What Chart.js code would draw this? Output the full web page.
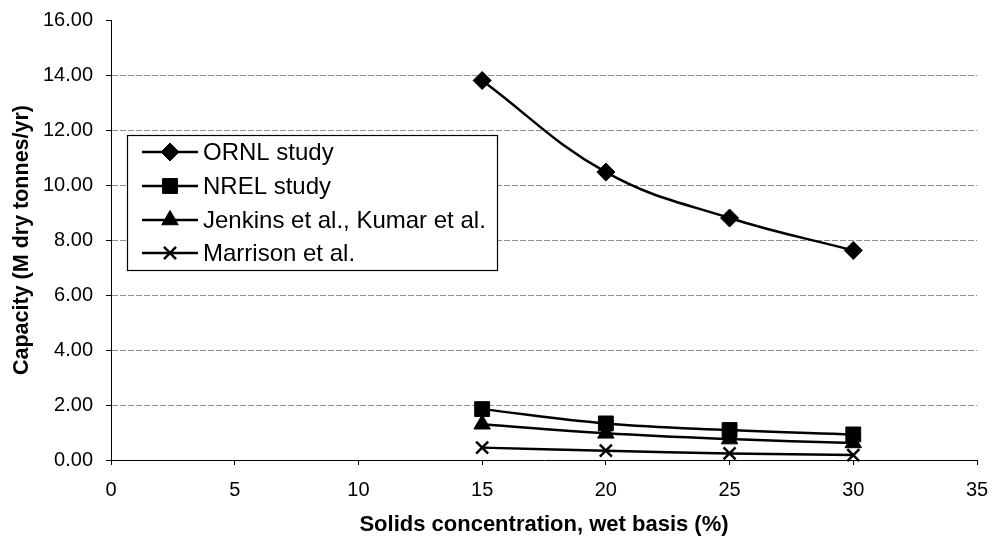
<!DOCTYPE html>
<html>
<head>
<meta charset="utf-8">
<script src="https://cdn.jsdelivr.net/npm/chart.js@4/dist/chart.umd.min.js"></script>
<style>
  html, body { margin: 0; padding: 0; background: #fff; }
  #wrap { width: 993px; height: 542px; position: relative; }
</style>
</head>
<body>
<div id="wrap"><canvas id="c" width="993" height="542"></canvas></div>
<script>
// ---- data ----
const solids = [15, 20, 25, 30];
const ornlStudy = [13.8, 10.47, 8.8, 7.62];
const nrelStudy = [1.85, 1.33, 1.09, 0.93];
const jenkinsKumar = [1.3, 0.97, 0.76, 0.62];
const marrison = [0.45, 0.34, 0.24, 0.18];
const seriesNames = ['ORNL study', 'NREL study', 'Jenkins et al., Kumar et al.', 'Marrison et al.'];
const xTicks = [0, 5, 10, 15, 20, 25, 30, 35];
const yTicks = [0, 2, 4, 6, 8, 10, 12, 14, 16];
const xTitle = 'Solids concentration, wet basis (%)';
const yTitle = 'Capacity (M dry tonnes/yr)';

const FONT = '"Liberation Sans", Arial, Helvetica, sans-serif';
const styles = [
  { pointStyle: 'rectRot', radius: 9 },
  { pointStyle: 'rect', radius: 10.5 },
  { pointStyle: 'triangle', radius: 9.5 },
  { pointStyle: 'crossRot', radius: 8.5 }
];
const allSeries = [ornlStudy, nrelStudy, jenkinsKumar, marrison];

const datasets = allSeries.map((vals, i) => ({
  label: seriesNames[i],
  data: solids.map((x, j) => ({ x: x, y: vals[j] })),
  borderColor: '#000',
  backgroundColor: '#000',
  borderWidth: 2.5,
  tension: 0.4,
  pointStyle: styles[i].pointStyle,
  pointRadius: styles[i].radius,
  pointHoverRadius: styles[i].radius,
  pointBackgroundColor: '#000',
  pointBorderColor: '#000',
  pointBorderWidth: styles[i].pointStyle === 'crossRot' ? 2.5 : 1,
  clip: false
}));

function drawMarker(ctx, style, r, x, y) {
  ctx.save();
  ctx.fillStyle = '#000';
  ctx.strokeStyle = '#000';
  ctx.lineWidth = 1;
  ctx.beginPath();
  if (style === 'rectRot') {
    ctx.moveTo(x, y - r); ctx.lineTo(x + r, y); ctx.lineTo(x, y + r); ctx.lineTo(x - r, y);
    ctx.closePath(); ctx.fill(); ctx.stroke();
  } else if (style === 'rect') {
    const s = r * Math.SQRT1_2;
    ctx.rect(x - s, y - s, 2 * s, 2 * s); ctx.fill(); ctx.stroke();
  } else if (style === 'triangle') {
    const a = 2 * Math.PI / 3;
    ctx.moveTo(x, y - r);
    ctx.lineTo(x + Math.sin(a) * r, y - Math.cos(a) * r);
    ctx.lineTo(x + Math.sin(2 * a) * r, y - Math.cos(2 * a) * r);
    ctx.closePath(); ctx.fill(); ctx.stroke();
  } else if (style === 'crossRot') {
    ctx.lineWidth = 2.5;
    const d = r * Math.SQRT1_2;
    ctx.moveTo(x - d, y - d); ctx.lineTo(x + d, y + d);
    ctx.moveTo(x + d, y - d); ctx.lineTo(x - d, y + d);
    ctx.stroke();
  }
  ctx.restore();
}

const boxLegend = {
  id: 'boxLegend',
  afterDatasetsDraw(chart) {
    const ctx = chart.ctx;
    const bx = 127.5, by = 135.5, bw = 370, bh = 135;
    ctx.save();
    ctx.fillStyle = '#fff';
    ctx.fillRect(bx, by, bw, bh);
    ctx.strokeStyle = '#000';
    ctx.lineWidth = 1.2;
    ctx.strokeRect(bx, by, bw, bh);
    const rowY = [152, 186, 220, 253];
    ctx.font = '24px ' + FONT;
    ctx.textBaseline = 'middle';
    ctx.textAlign = 'left';
    seriesNames.forEach((name, i) => {
      const y = rowY[i];
      ctx.strokeStyle = '#000';
      ctx.lineWidth = 2.5;
      ctx.beginPath(); ctx.moveTo(142, y); ctx.lineTo(198, y); ctx.stroke();
      drawMarker(ctx, styles[i].pointStyle, styles[i].radius, 170, y);
      ctx.fillStyle = '#000';
      ctx.fillText(name, 203, y + 1);
    });
    ctx.restore();
  }
};

new Chart(document.getElementById('c'), {
  type: 'line',
  data: { datasets: datasets },
  options: {
    responsive: false,
    animation: false,
    events: [],
    layout: { padding: { top: 20, right: 16, left: 0, bottom: 0 } },
    plugins: { legend: { display: false }, tooltip: { enabled: false } },
    scales: {
      x: {
        type: 'linear',
        min: 0, max: 35,
        afterBuildTicks: (s) => { s.ticks = xTicks.map(v => ({ value: v })); },
        afterFit: (s) => { s.height = 82; s.paddingLeft = 0; s.paddingRight = 0; },
        ticks: { color: '#000', font: { family: FONT, size: 20 }, padding: 13, maxRotation: 0 },
        grid: { drawOnChartArea: false, drawTicks: true, tickLength: 5, tickColor: '#000', tickWidth: 1 },
        border: { display: true, color: '#000', width: 1 },
        title: { display: true, text: xTitle, color: '#000', font: { family: FONT, size: 22, weight: 'bold' }, padding: { top: 0, bottom: 4 } }
      },
      y: {
        min: 0, max: 16,
        afterBuildTicks: (s) => { s.ticks = yTicks.map(v => ({ value: v })); },
        afterFit: (s) => { s.width = 111; s.paddingTop = 0; s.paddingBottom = 0; },
        ticks: { color: '#000', font: { family: FONT, size: 20 }, padding: 13, callback: (v) => Number(v).toFixed(2) },
        grid: {
          drawOnChartArea: true, drawTicks: true, tickLength: 5, tickColor: '#000', tickWidth: 1,
          color: (c) => (c.tick && (c.tick.value === 0 || c.tick.value === 16)) ? 'rgba(0,0,0,0)' : '#8f8f8f',
          lineWidth: 1
        },
        border: { display: true, color: '#000', width: 1, dash: [6, 2] },
        title: { display: true, text: yTitle, color: '#000', font: { family: FONT, size: 21.5, weight: 'bold' }, padding: { top: 9, bottom: 0 } }
      }
    }
  },
  plugins: [boxLegend]
});
</script>
</body>
</html>
